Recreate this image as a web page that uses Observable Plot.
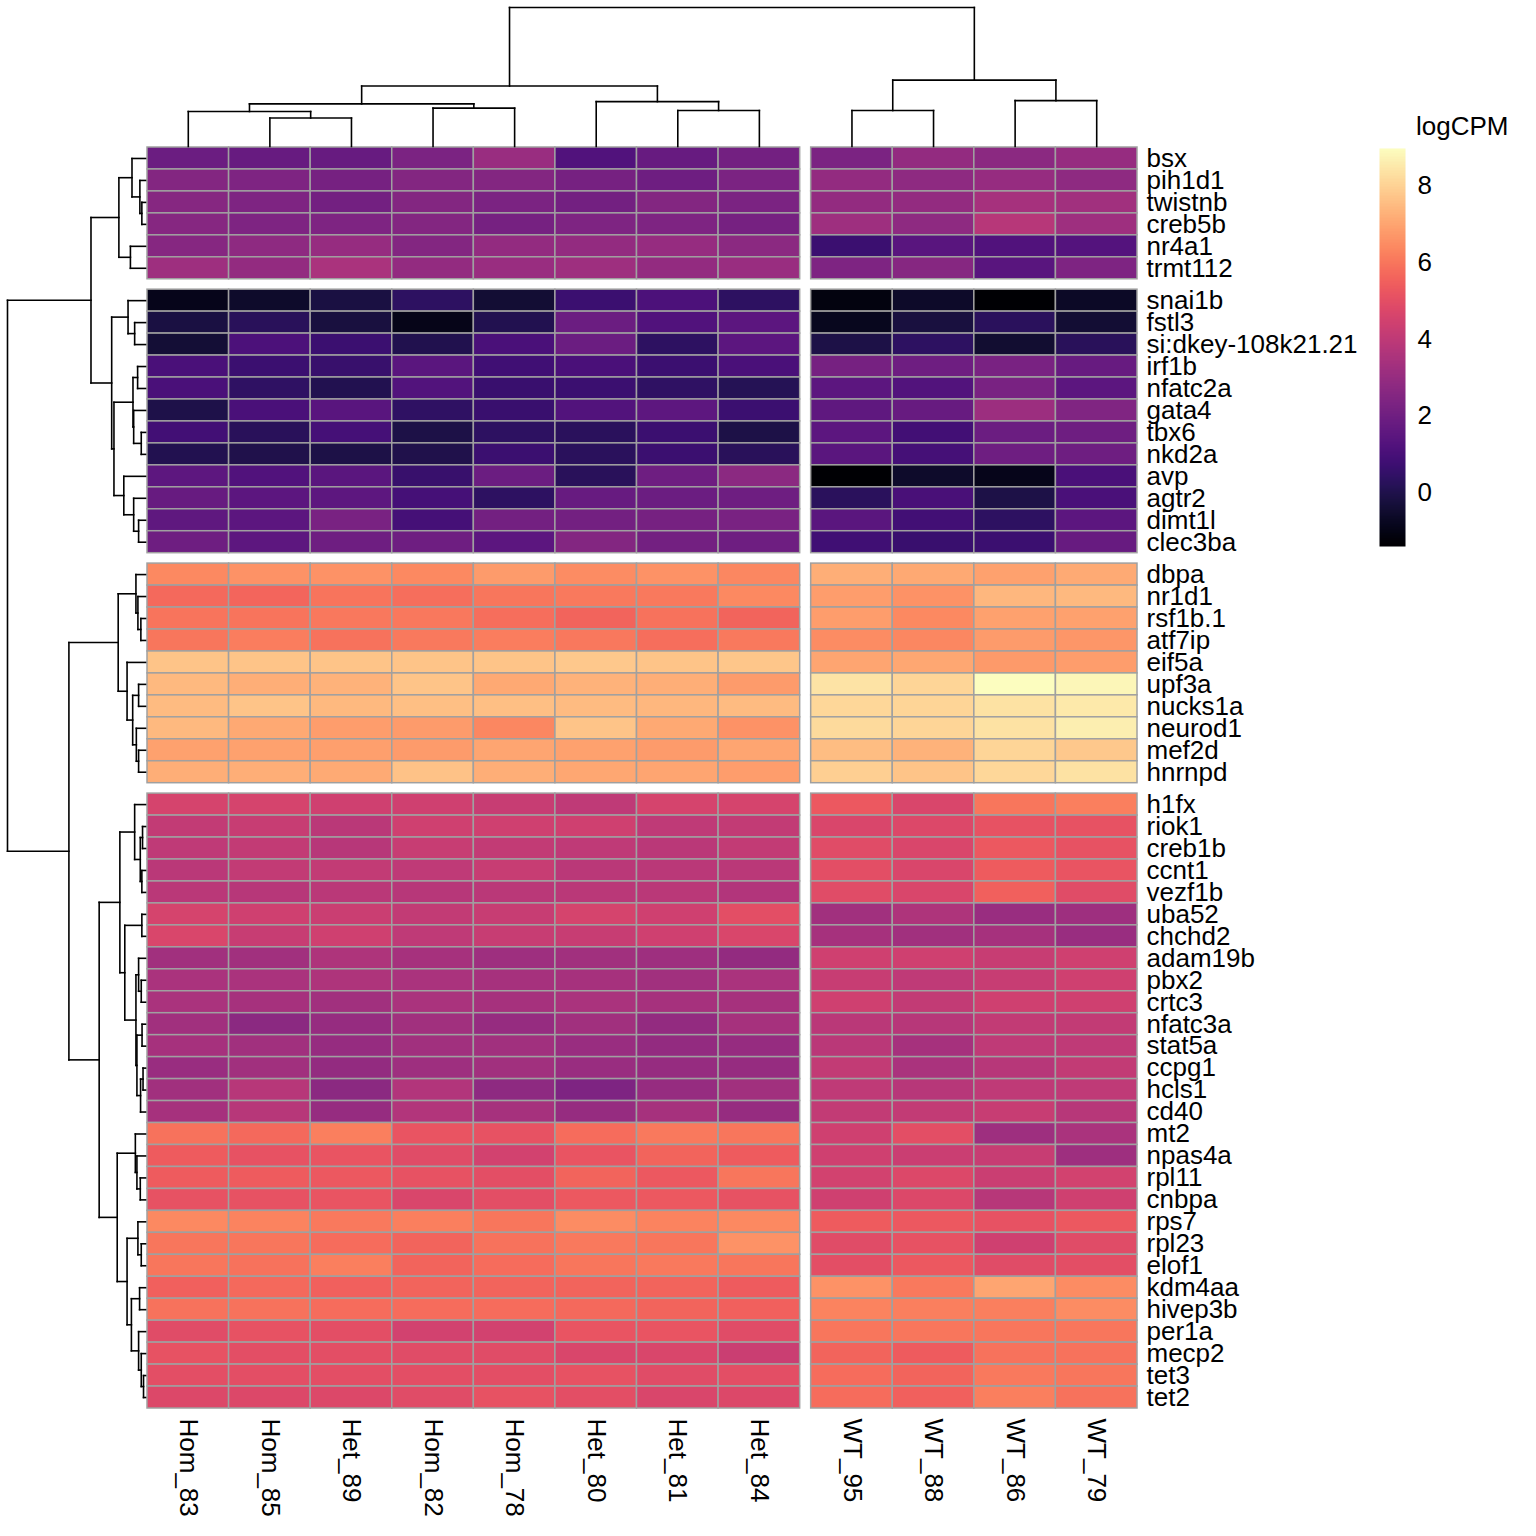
<!DOCTYPE html>
<html>
<head>
<meta charset="utf-8">
<script src="https://cdn.jsdelivr.net/npm/d3@7"></script>
<script src="https://cdn.jsdelivr.net/npm/@observablehq/plot@0.6"></script>
<style>
  body { margin: 0; background: #ffffff; }
  #chart { position: relative; width: 1536px; height: 1536px; font-family: "Liberation Sans", Arial, Helvetica, sans-serif; }
  #chart svg { position: absolute; left: 0; top: 0; background: transparent; overflow: visible; max-width: none; }
  #legendTitle { position: absolute; left: 1416px; top: 111px; font-size: 26px; line-height: 30px; color: #000; }
</style>
</head>
<body>
<div id="chart"><div id="legendTitle">logCPM</div></div>
<script>
// ---------------- data ----------------
const samples = ["Hom_83","Hom_85","Het_89","Hom_82","Hom_78","Het_80","Het_81","Het_84","WT_95","WT_88","WT_86","WT_79"];
const sampleSlice = [0,0,0,0,0,0,0,0,1,1,1,1];

const cluster1Genes = ["bsx","pih1d1","twistnb","creb5b","nr4a1","trmt112"];
const cluster1Values = [
  [1.9,1.8,1.8,2.3,3.1,1.2,1.8,2.1, 2.3,2.9,2.7,3.0],
  [2.5,2.4,2.2,2.5,2.5,2.2,2.0,2.3, 2.9,2.8,3.0,2.8],
  [2.6,2.4,2.1,2.5,2.3,2.1,2.5,2.3, 2.9,2.9,3.4,3.3],
  [2.6,2.4,2.4,2.5,2.2,2.4,2.4,2.2, 3.2,2.8,3.8,3.2],
  [2.6,2.8,3.0,2.5,2.9,2.9,3.0,2.7, 0.7,1.4,1.2,1.3],
  [3.2,2.9,3.5,2.9,3.1,3.2,2.9,3.1, 2.4,2.6,1.4,2.4]
];

const cluster2Genes = ["snai1b","fstl3","si:dkey-108k21.21","irf1b","nfatc2a","gata4","tbx6","nkd2a","avp","agtr2","dimt1l","clec3ba"];
const cluster2Values = [
  [-0.9,-0.57,-0.15,0.36,-0.4,0.7,1.1,0.35, -1.1,-0.6,-1.4,-0.65],
  [-0.15,0.25,-0.2,-0.95,0.1,1.9,1.2,1.5, -0.8,-0.2,0.3,-0.4],
  [-0.35,1.1,0.7,0.05,1.05,1.9,0.35,1.5, -0.1,0.35,-0.45,0.25],
  [1.05,0.7,0.6,1.45,0.8,1.05,0.7,1.05, 2.2,2.0,2.25,1.8],
  [1.05,0.4,0.1,1.25,0.65,0.7,0.4,0.15, 1.5,1.25,2.25,1.5],
  [-0.05,1.05,1.4,0.4,0.65,1.25,1.55,0.7, 1.6,1.8,3.15,2.45],
  [0.85,0.25,0.95,-0.1,0.35,0.3,0.7,-0.1, 1.5,0.85,1.9,2.0],
  [0.1,0.0,-0.1,0.0,0.7,0.3,0.7,0.25, 1.45,0.95,2.0,2.0],
  [1.55,1.2,1.45,0.6,1.9,0.25,2.0,2.7, -1.4,-0.55,-0.9,1.05],
  [1.8,1.5,1.55,0.95,0.35,1.8,1.9,2.0, 0.3,1.0,-0.1,1.05],
  [1.6,1.5,2.25,0.95,2.1,2.1,2.2,2.25, 1.45,0.85,0.35,1.5],
  [2.0,1.55,2.0,2.0,1.5,2.5,2.1,2.0, 0.8,0.65,0.7,1.8]
];

const cluster3Genes = ["dbpa","nr1d1","rsf1b.1","atf7ip","eif5a","upf3a","nucks1a","neurod1","mef2d","hnrnpd"];
const cluster3Values = [
  [6.4,6.6,6.6,6.4,6.8,6.5,6.6,6.35, 7.2,7.1,6.95,7.15],
  [5.7,5.65,5.95,5.85,6.0,6.1,6.1,6.4, 6.85,6.6,7.4,7.45],
  [5.95,5.95,6.05,6.05,5.85,5.6,5.9,5.6, 6.85,6.4,6.95,6.95],
  [6.0,6.15,5.9,6.1,6.15,6.05,5.85,6.1, 6.5,6.35,6.8,6.7],
  [7.7,7.7,7.7,7.7,7.7,7.8,7.7,7.75, 7.0,7.05,6.75,6.85],
  [7.45,7.2,7.3,7.7,7.1,7.3,7.2,6.8, 8.4,8.05,8.98,8.8],
  [7.5,7.7,7.45,7.6,7.6,7.5,7.4,7.5, 8.1,8.05,8.35,8.5],
  [7.45,7.1,6.85,6.8,6.35,7.7,7.1,6.6, 8.2,8.05,8.35,8.65],
  [6.95,6.95,6.9,6.8,7.0,6.95,6.8,7.0, 7.55,7.3,8.05,7.8],
  [7.2,7.2,7.15,7.65,7.2,7.05,7.0,6.85, 7.95,7.7,8.1,8.35]
];

const cluster4Genes = ["h1fx","riok1","creb1b","ccnt1","vezf1b","uba52","chchd2","adam19b","pbx2","crtc3","nfatc3a","stat5a","ccpg1","hcls1","cd40","mt2","npas4a","rpl11","cnbpa","rps7","rpl23","elof1","kdm4aa","hivep3b","per1a","mecp2","tet3","tet2"];
const cluster4Values = [
  [4.6,4.6,4.4,4.4,4.2,4.0,4.6,4.6, 5.3,4.7,6.0,6.2],
  [4.1,4.2,3.9,4.4,4.4,4.4,4.0,4.1, 4.7,4.8,5.1,5.1],
  [4.0,4.1,3.8,4.2,4.1,4.0,3.9,4.1, 4.9,4.7,5.3,5.1],
  [3.9,4.1,4.1,4.0,4.2,3.9,3.9,3.9, 5.0,4.7,5.4,5.2],
  [3.9,3.8,3.9,3.8,3.9,3.9,3.9,3.7, 4.9,4.7,5.5,4.9],
  [4.6,4.4,4.3,4.1,4.2,4.6,4.4,5.0, 3.3,3.6,3.1,3.2],
  [4.7,4.2,4.4,4.0,4.2,4.2,4.4,4.7, 3.4,3.3,3.4,3.1],
  [3.3,3.3,3.6,3.4,3.2,3.3,3.2,2.9, 4.4,4.4,4.2,4.4],
  [3.5,3.5,3.6,3.5,3.4,3.4,3.3,3.5, 4.2,4.0,4.2,4.4],
  [3.5,3.4,3.3,3.5,3.4,3.5,3.4,3.4, 4.4,4.1,4.4,4.4],
  [3.3,2.7,3.0,3.3,3.0,3.3,2.9,3.4, 3.9,3.8,4.1,4.1],
  [3.4,3.3,3.0,3.3,3.3,3.1,2.9,3.0, 3.9,3.4,4.0,4.0],
  [3.1,3.3,2.9,3.2,3.3,3.1,3.0,3.0, 4.1,3.5,3.8,4.1],
  [3.3,3.8,2.7,3.7,2.8,2.4,3.0,3.3, 4.0,3.8,4.0,4.0],
  [3.4,3.8,3.0,3.7,3.4,3.0,3.4,3.0, 4.1,4.1,4.2,3.8],
  [5.9,5.7,6.2,5.2,5.1,5.8,6.1,6.0, 4.4,5.0,3.2,3.5],
  [5.4,5.1,5.2,4.9,4.5,5.2,5.6,5.4, 4.4,4.3,4.2,3.2],
  [5.4,5.4,5.3,5.1,5.0,5.6,5.3,6.0, 4.5,4.8,4.3,4.5],
  [5.1,5.1,5.2,4.7,5.0,5.3,5.3,5.1, 4.4,4.8,3.8,4.4],
  [6.4,6.3,6.1,6.2,6.0,6.5,6.3,6.4, 5.4,5.3,5.1,5.3],
  [6.0,6.0,5.8,5.6,5.9,6.1,6.0,6.6, 4.9,5.1,4.4,4.9],
  [6.0,5.9,6.2,5.6,5.8,6.0,6.1,6.0, 5.0,5.3,4.9,5.0],
  [5.5,5.7,5.5,5.6,5.6,5.6,5.6,5.4, 6.6,6.1,7.0,6.5],
  [5.9,5.9,5.8,5.8,5.8,5.7,5.6,5.5, 6.3,6.2,6.2,6.5],
  [4.9,5.1,5.0,4.5,4.5,5.2,5.2,4.9, 6.0,6.0,6.0,6.0],
  [5.1,5.0,5.0,4.9,4.9,4.7,4.7,4.3, 5.6,5.4,5.9,5.9],
  [5.0,5.0,5.0,5.0,5.0,5.1,4.9,5.0, 5.8,5.6,6.1,6.0],
  [4.8,4.8,4.8,4.9,5.1,5.0,4.7,4.8, 5.8,5.5,6.2,5.9]
];

// dendrograms: [mergeHeight, left, right]
const colTree = [140.3,
  [61, [43, [35.3, "Hom_83", [28.7, "Hom_85", "Het_89"]], [38.7, "Hom_82", "Hom_78"]],
       [45.3, "Het_80", [36.3, "Het_81", "Het_84"]]],
  [67, [36.3, "WT_95", "WT_88"], [46.3, "WT_86", "WT_79"]]];

const rowTree1 = [27, [13.7, "bsx", [5.7, "pih1d1", [3.7, "twistnb", "creb5b"]]], [15.3, "nr4a1", "trmt112"]];
const rowTree2 = [34.3, [17.7, "snai1b", [11, "fstl3", "si:dkey-108k21.21"]],
  [32, [12.7, [8, "irf1b", "nfatc2a"], [12, "gata4", [4.3, "tbx6", "nkd2a"]]],
       [22, "avp", [12, "agtr2", [7, "dimt1l", "clec3ba"]]]]];
const rowTree3 = [27.7, [9.7, "dbpa", [7.7, "nr1d1", [4.7, "rsf1b.1", "atf7ip"]]],
  [18.7, "eif5a", [13, [7, "upf3a", "nucks1a"], [9.3, "neurod1", [7, "mef2d", "hnrnpd"]]]]];
const rowTree4a = [26, [11, "h1fx", [5.3, [3, "riok1", "creb1b"], [3.7, "ccnt1", "vezf1b"]]],
  [21, [3.7, "uba52", "chchd2"],
       [9.7, [7, "adam19b", [4.3, "pbx2", "crtc3"]], [8.7, [3.5, "nfatc3a", "stat5a"], [5, [2.5, "ccpg1", "hcls1"], "cd40"]]]]];
const rowTree4b = [28.7, [10.3, "mt2", [8.7, "npas4a", [5.3, "rpl11", "cnbpa"]]],
  [18.7, [7.7, "rps7", [4.3, "rpl23", "elof1"]],
         [14.3, [6, "kdm4aa", "hivep3b"], [7, "per1a", [4.3, "mecp2", [2, "tet3", "tet2"]]]]]];
const rowTree = [140, [55.3, rowTree1, rowTree2], [77.7, rowTree3, [47, rowTree4a, rowTree4b]]];

const legendTicks = [0, 2, 4, 6, 8];
const colorDomain = [-1.4, 8.98];

// ---------------- layout helpers ----------------
const clusters = [[cluster1Genes, cluster1Values], [cluster2Genes, cluster2Values], [cluster3Genes, cluster3Values], [cluster4Genes, cluster4Values]];
const gapX = 11 / 81.6;      // slice gap in column units
const gapY = 10.4 / 21.96;   // slice gap in row units
const nRows = clusters.reduce((s, c) => s + c[0].length, 0);
const xMax = samples.length + gapX;
const yMax = nRows + (clusters.length - 1) * gapY;

const cells = [], rowsInfo = [];
let k = 0;
clusters.forEach(([genes, vals], c) => {
  genes.forEach((g, r) => {
    const y = k + c * gapY;
    rowsInfo.push({gene: g, y: y + 0.5});
    samples.forEach((s, j) => {
      const x = j + sampleSlice[j] * gapX;
      cells.push({gene: g, sample: s, x1: x, x2: x + 1, y1: y, y2: y + 1, value: vals[r][j]});
    });
    k++;
  });
});
const colsInfo = samples.map((s, j) => ({sample: s, x: j + sampleSlice[j] * gapX + 0.5}));

function dendro(tree, posOf) {
  const segs = [];
  (function walk(n) {
    if (typeof n === "string") return {p: posOf.get(n), h: 0};
    const [h, a, b] = n;
    const A = walk(a), B = walk(b);
    segs.push({p1: A.p, h1: A.h, p2: A.p, h2: h});
    segs.push({p1: A.p, h1: h, p2: B.p, h2: h});
    segs.push({p1: B.p, h1: h, p2: B.p, h2: B.h});
    return {p: (A.p + B.p) / 2, h};
  })(tree);
  return segs;
}
const colSegs = dendro(colTree, new Map(colsInfo.map(d => [d.sample, d.x])));
const rowSegs = dendro(rowTree, new Map(rowsInfo.map(d => [d.gene, d.y])));

const font = "font-family:'Liberation Sans',Arial,Helvetica,sans-serif;font-size:26px;";
const colorScale = {type: "linear", scheme: "magma", domain: colorDomain};
const chart = document.getElementById("chart");

// heatmap body with labels
const heat = Plot.plot({
  width: 1536, height: 1536,
  marginLeft: 147, marginRight: 399, marginTop: 147, marginBottom: 128,
  style: font,
  x: {type: "linear", domain: [0, xMax], axis: null},
  y: {type: "linear", domain: [0, yMax], reverse: true, axis: null},
  color: colorScale,
  marks: [
    Plot.rect(cells, {x1: "x1", x2: "x2", y1: "y1", y2: "y2", fill: "value", stroke: "#a0a0a0", strokeWidth: 1.5}),
    Plot.text(rowsInfo, {x: xMax, y: "y", text: "gene", textAnchor: "start", dx: 9, fontSize: 26, fill: "#000"}),
    Plot.text(colsInfo, {x: "x", y: yMax, text: "sample", rotate: 90, textAnchor: "start", lineAnchor: "middle", dy: 10, fontSize: 26, fill: "#000"})
  ]
});
chart.appendChild(heat);

// column dendrogram
const topDendro = Plot.plot({
  width: 1536, height: 147,
  marginLeft: 147, marginRight: 399, marginTop: 7, marginBottom: 1,
  style: font,
  x: {type: "linear", domain: [0, xMax], axis: null},
  y: {type: "linear", domain: [0, colTree[0]], axis: null},
  marks: [
    Plot.link(colSegs, {x1: "p1", x2: "p2", y1: "h1", y2: "h2", stroke: "#000", strokeWidth: 1.6, strokeLinecap: "square"})
  ]
});
chart.appendChild(topDendro);

// row dendrogram
const leftDendro = Plot.plot({
  width: 147, height: 1536,
  marginLeft: 7, marginRight: 2, marginTop: 147, marginBottom: 128,
  style: font,
  x: {type: "linear", domain: [rowTree[0], 0], axis: null},
  y: {type: "linear", domain: [0, yMax], reverse: true, axis: null},
  marks: [
    Plot.link(rowSegs, {x1: "h1", x2: "h2", y1: "p1", y2: "p2", stroke: "#000", strokeWidth: 1.6, strokeLinecap: "square"})
  ]
});
chart.appendChild(leftDendro);

// colour legend
const legend = Plot.plot({
  width: 166, height: 560,
  marginLeft: 9, marginRight: 131, marginTop: 148, marginBottom: 14,
  style: font + "left:1370px;top:0px;",
  x: {type: "linear", domain: [0, 1], axis: null},
  y: {type: "linear", domain: colorDomain, axis: null},
  color: colorScale,
  marks: [
    Plot.raster({x1: 0, x2: 1, y1: colorDomain[0], y2: colorDomain[1], width: 1, height: 400, fill: (x, y) => y, imageRendering: "auto"}),
    Plot.axisY(legendTicks, {anchor: "right", tickSize: 0, tickPadding: 12, fontSize: 26, label: null, tickFormat: d => String(d), fill: "#000"})
  ]
});
chart.appendChild(legend);
</script>
</body>
</html>
